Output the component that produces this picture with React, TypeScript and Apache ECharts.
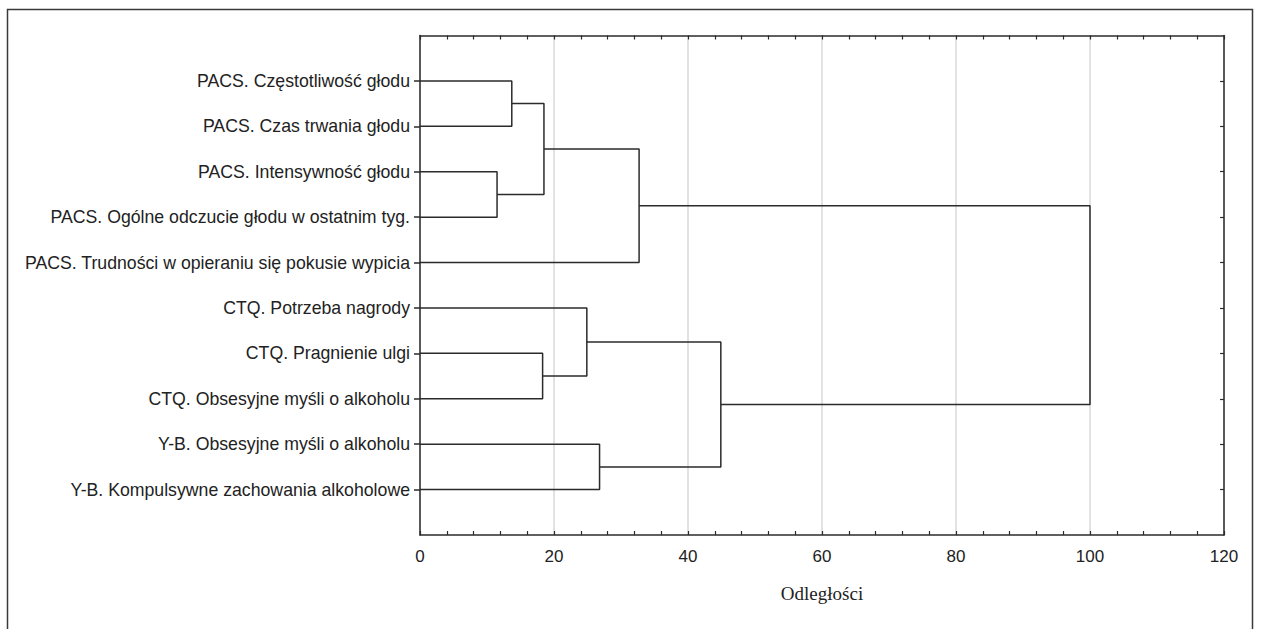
import React, { useEffect, useRef } from "react";
import * as echarts from "echarts";

const leaves: string[] = [
  "PACS. Częstotliwość głodu",
  "PACS. Czas trwania głodu",
  "PACS. Intensywność głodu",
  "PACS. Ogólne odczucie głodu w ostatnim tyg.",
  "PACS. Trudności w opieraniu się pokusie wypicia",
  "CTQ. Potrzeba nagrody",
  "CTQ. Pragnienie ulgi",
  "CTQ. Obsesyjne myśli o alkoholu",
  "Y-B. Obsesyjne myśli o alkoholu",
  "Y-B. Kompulsywne zachowania alkoholowe",
];

// [clusterA, clusterB, linkage distance]; leaves are 0..9, merges create 10, 11, ...
const merges: [number, number, number][] = [
  [0, 1, 13.7],
  [2, 3, 11.5],
  [10, 11, 18.5],
  [12, 4, 32.7],
  [6, 7, 18.3],
  [5, 14, 24.9],
  [8, 9, 26.8],
  [15, 16, 44.9],
  [13, 17, 100],
];

const xTicks = [0, 20, 40, 60, 80, 100, 120];
const axisTitle = "Odległości";

export default function App() {
  const ref = useRef<HTMLDivElement>(null);
  useEffect(() => {
    document.body.style.margin = "0";
    if (!ref.current) return;
    const chart = echarts.init(ref.current, undefined, { renderer: "svg" });

    const pos: number[] = leaves.map((_, i) => i + 1);
    const hgt: number[] = leaves.map(() => 0);
    const series: any[] = [];
    merges.forEach(([a, b, h]) => {
      series.push({
        type: "line",
        xAxisIndex: 0,
        yAxisIndex: 0,
        symbol: "none",
        silent: true,
        lineStyle: { color: "#2b2b2b", width: 1.5 },
        data: [
          [hgt[a], pos[a]],
          [h, pos[a]],
          [h, pos[b]],
          [hgt[b], pos[b]],
        ],
      });
      pos.push((pos[a] + pos[b]) / 2);
      hgt.push(h);
    });

    const leafVals = leaves.map((_, i) => i + 1);
    const axisLine = { show: true, onZero: false, lineStyle: { color: "#2b2b2b", width: 1.5 } };
    const tickStyle = { color: "#2b2b2b", width: 1.2 };

    chart.setOption({
      animation: false,
      grid: { left: 420, right: 37, top: 35.5, bottom: 94, containLabel: false },
      xAxis: [
        {
          type: "value",
          position: "bottom",
          min: xTicks[0],
          max: xTicks[xTicks.length - 1],
          interval: 20,
          axisLine,
          axisTick: { show: true, inside: true, length: 4, lineStyle: tickStyle },
          minorTick: { show: true, splitNumber: 5, length: 4, lineStyle: tickStyle },
          splitLine: { show: true, lineStyle: { color: "#d9d9d9", width: 1.5 } },
          axisLabel: { color: "#222", fontFamily: "Liberation Sans", fontSize: 17, margin: 13 },
          name: axisTitle,
          nameLocation: "middle",
          nameGap: 49,
          nameTextStyle: { color: "#222", fontFamily: "Liberation Serif", fontSize: 19 },
        },
        {
          type: "value",
          position: "top",
          min: xTicks[0],
          max: xTicks[xTicks.length - 1],
          interval: 20,
          axisLine,
          axisTick: { show: true, inside: true, length: 4, lineStyle: tickStyle },
          minorTick: { show: true, splitNumber: 5, length: 4, lineStyle: tickStyle },
          splitLine: { show: false },
          axisLabel: { show: false },
        },
      ],
      yAxis: [
        {
          type: "value",
          position: "left",
          inverse: true,
          min: 0,
          max: leaves.length + 1,
          interval: 1,
          axisLine,
          axisTick: { show: true, inside: false, length: 6, customValues: leafVals, lineStyle: { color: "#2b2b2b", width: 1.5 } },
          splitLine: { show: false },
          axisLabel: {
            customValues: leafVals,
            formatter: (v: number) => leaves[Math.round(v) - 1] || "",
            color: "#222",
            fontFamily: "Liberation Sans",
            fontSize: 17.7,
            margin: 10,
          },
        },
        {
          type: "value",
          position: "right",
          inverse: true,
          min: 0,
          max: leaves.length + 1,
          interval: 1,
          axisLine,
          axisTick: { show: true, inside: true, length: 4, customValues: leafVals, lineStyle: tickStyle },
          splitLine: { show: false },
          axisLabel: { show: false },
        },
      ],
      graphic: [
        {
          type: "rect",
          silent: true,
          shape: { x: 7.5, y: 9.5, width: 1245, height: 640 },
          style: { fill: "none", stroke: "#3a3a3a", lineWidth: 1.5 },
        },
      ],
      series,
    });

    return () => chart.dispose();
  }, []);
  return <div ref={ref} style={{ width: 1261, height: 629 }} />;
}
